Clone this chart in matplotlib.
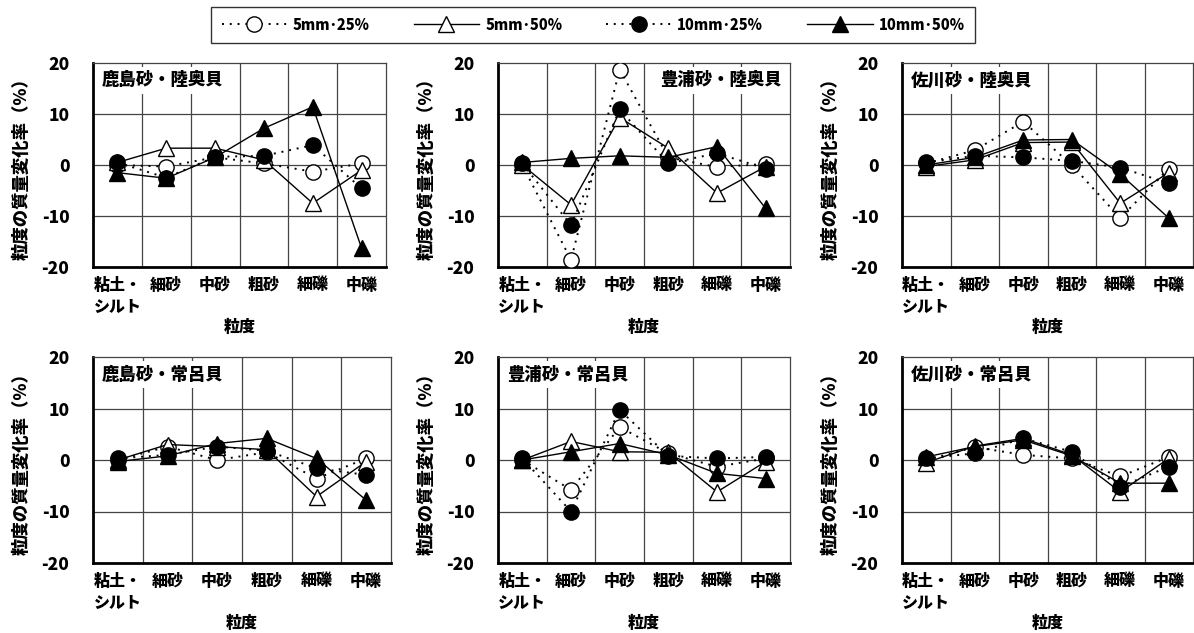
import numpy as np
import matplotlib
matplotlib.use("Agg")
import matplotlib.pyplot as plt
from matplotlib.lines import Line2D

plt.rcParams['font.family'] = ['Noto Sans CJK JP', 'DejaVu Sans']
plt.rcParams['font.weight'] = 'bold'

categories = ["粘土・\nシルト", "細砂", "中砂", "粗砂", "細礫", "中礫"]
series_names = ["5mm･25%", "5mm･50%", "10mm･25%", "10mm･50%"]
panel_titles = ["鹿島砂・陸奥貝", "豊浦砂・陸奥貝", "佐川砂・陸奥貝",
                "鹿島砂・常呂貝", "豊浦砂・常呂貝", "佐川砂・常呂貝"]

# values per panel: 5mm25, 5mm50, 10mm25, 10mm50
kashima_mutsu_5_25 = [0.0, -0.3, 1.5, 0.3, -1.3, 0.3]
kashima_mutsu_5_50 = [0.5, 3.3, 3.3, 1.0, -7.5, -1.0]
kashima_mutsu_10_25 = [0.5, -2.5, 1.6, 1.8, 3.9, -4.6]
kashima_mutsu_10_50 = [-1.5, -2.6, 1.5, 7.2, 11.4, -16.3]

toyoura_mutsu_5_25 = [0.0, -18.6, 18.7, 1.5, -0.4, 0.2]
toyoura_mutsu_5_50 = [0.0, -7.8, 9.3, 3.3, -5.5, -0.3]
toyoura_mutsu_10_25 = [0.3, -11.8, 10.9, 0.3, 2.3, -0.7]
toyoura_mutsu_10_50 = [0.5, 1.3, 1.8, 1.5, 3.6, -8.5]

sagawa_mutsu_5_25 = [0.3, 2.9, 8.5, 0.0, -10.4, -0.7]
sagawa_mutsu_5_50 = [-0.3, 1.0, 4.4, 4.5, -7.5, -1.5]
sagawa_mutsu_10_25 = [0.5, 1.8, 1.5, 0.8, -0.5, -3.6]
sagawa_mutsu_10_50 = [0.0, 1.5, 4.9, 5.0, -1.8, -10.4]

kashima_tokoro_5_25 = [0.0, 2.6, 0.0, 1.5, -3.6, 0.3]
kashima_tokoro_5_50 = [0.0, 3.0, 2.6, 2.0, -7.1, -0.3]
kashima_tokoro_10_25 = [0.3, 1.0, 2.6, 1.8, -1.6, -2.9]
kashima_tokoro_10_50 = [-0.3, 0.8, 3.2, 4.2, 0.3, -7.8]

toyoura_tokoro_5_25 = [0.0, -5.8, 6.4, 1.3, -1.3, 0.3]
toyoura_tokoro_5_50 = [0.0, 3.6, 1.6, 1.5, -6.2, -0.3]
toyoura_tokoro_10_25 = [0.3, -10.0, 9.7, 0.8, 0.3, 0.6]
toyoura_tokoro_10_50 = [0.0, 1.6, 3.2, 1.0, -2.6, -3.6]

sagawa_tokoro_5_25 = [0.0, 2.5, 1.0, 0.3, -3.2, 0.6]
sagawa_tokoro_5_50 = [-0.5, 2.7, 4.2, 1.0, -6.2, 0.3]
sagawa_tokoro_10_25 = [0.3, 1.3, 4.2, 1.6, -5.2, -1.3]
sagawa_tokoro_10_50 = [0.6, 2.6, 3.9, 0.8, -4.5, -4.5]

panel_data = [
    [kashima_mutsu_5_25, kashima_mutsu_5_50, kashima_mutsu_10_25, kashima_mutsu_10_50],
    [toyoura_mutsu_5_25, toyoura_mutsu_5_50, toyoura_mutsu_10_25, toyoura_mutsu_10_50],
    [sagawa_mutsu_5_25, sagawa_mutsu_5_50, sagawa_mutsu_10_25, sagawa_mutsu_10_50],
    [kashima_tokoro_5_25, kashima_tokoro_5_50, kashima_tokoro_10_25, kashima_tokoro_10_50],
    [toyoura_tokoro_5_25, toyoura_tokoro_5_50, toyoura_tokoro_10_25, toyoura_tokoro_10_50],
    [sagawa_tokoro_5_25, sagawa_tokoro_5_50, sagawa_tokoro_10_25, sagawa_tokoro_10_50],
]

styles = [
    dict(linestyle=(0, (1, 3)), lw=1.4, marker='o', mfc='white', mec='black'),
    dict(linestyle='-', lw=1.0, marker='^', mfc='white', mec='black'),
    dict(linestyle=(0, (1, 3)), lw=1.4, marker='o', mfc='black', mec='black'),
    dict(linestyle='-', lw=1.0, marker='^', mfc='black', mec='black'),
]

W, H = 1194, 633
fig = plt.figure(figsize=(W / 100, H / 100), dpi=100)

# axes boxes in pixels: left, top, right, bottom
boxes = [(93, 63, 386, 267), (498, 63, 790, 267), (902, 63, 1193, 267),
         (93, 357, 391, 563), (498, 357, 790, 563), (902, 357, 1193, 563)]

x = np.arange(len(categories)) + 0.5

for i, (l, t, r, b) in enumerate(boxes):
    ax = fig.add_axes([l / W, 1 - b / H, (r - l) / W, (b - t) / H])
    ax.set_xlim(0, len(categories))
    ax.set_ylim(-20, 20)
    for xv in range(1, len(categories)):
        ax.axvline(xv, color='#444444', lw=0.9, zorder=0)
    for yv in (-10, 0, 10):
        ax.axhline(yv, color='#444444', lw=0.9, zorder=0)
    for s, vals in enumerate(panel_data[i]):
        ax.plot(x, vals, color='black', markersize=11, zorder=3 + s, **styles[s])
    ax.set_xticks(x)
    ax.set_xticklabels(categories, fontsize=11.5, fontweight='heavy', linespacing=1.55)
    for lab in ax.get_xticklabels()[:1]:
        lab.set_multialignment('left')
    ax.set_yticks([-20, -10, 0, 10, 20])
    ax.set_yticklabels(["-20", "-10", "0", "10", "20"], fontsize=12.5, fontweight='heavy')
    ax.tick_params(length=0, axis='y', pad=17)
    ax.tick_params(length=0, axis='x', pad=7)
    ax.set_xlabel("粒度", fontsize=11.5, fontweight='heavy', labelpad=3)
    ax.set_ylabel("粒度の質量変化率（%）", fontsize=12.5, fontweight='heavy', labelpad=8)
    for sp in ('left', 'bottom'):
        ax.spines[sp].set_linewidth(2.0)
    for sp in ('top', 'right'):
        ax.spines[sp].set_linewidth(0.9)
        ax.spines[sp].set_color('#444444')
    if i == 1:
        ax.text(0.97, 0.915, panel_titles[i], transform=ax.transAxes, ha='right', va='center',
                fontsize=12.5, fontweight='heavy', zorder=10,
                bbox=dict(facecolor='white', edgecolor='none', pad=3))
    else:
        ax.text(0.03, 0.915, panel_titles[i], transform=ax.transAxes, ha='left', va='center',
                fontsize=12.5, fontweight='heavy', zorder=10,
                bbox=dict(facecolor='white', edgecolor='none', pad=3))

handles = [Line2D([0], [0], color='black', markersize=11, **st) for st in styles]
leg = fig.legend(handles, series_names, loc='center', bbox_to_anchor=(593 / W, 1 - 25 / H),
                 ncol=4, frameon=True, fancybox=False, edgecolor='black', fontsize=10.5,
                 handlelength=4.5, columnspacing=3.0, handletextpad=0.4, borderpad=0.7)
leg.get_frame().set_linewidth(1.0)
for txt in leg.get_texts():
    txt.set_fontweight('heavy')

fig.savefig("out.png", dpi=100)
